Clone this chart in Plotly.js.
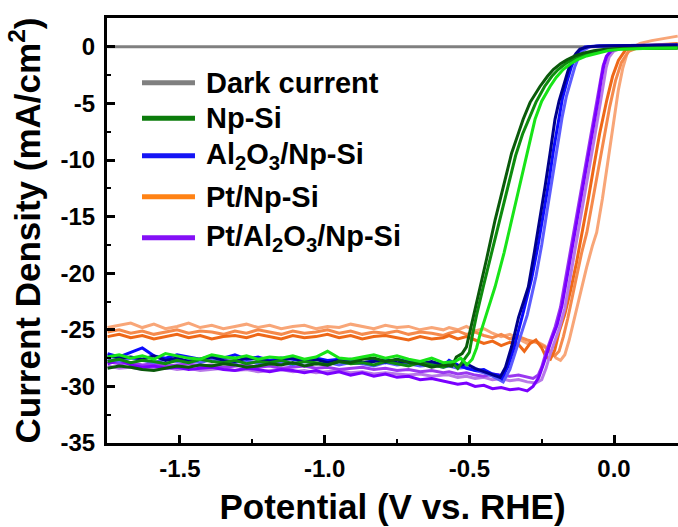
<!DOCTYPE html>
<html><head><meta charset="utf-8">
<script src="https://cdn.plot.ly/plotly-3.0.1.min.js"></script>
<style>html,body{margin:0;padding:0;background:#fff}#chart{width:678px;height:527px}</style>
</head><body><div id="chart"></div>
<script>
// ---- data ----
const xPlat = [-1.75,-1.71,-1.67,-1.63,-1.59,-1.55,-1.51,-1.47,-1.43,-1.39,-1.35,-1.31,-1.27,-1.23,-1.19,-1.15,-1.11,-1.07,-1.03,-0.99,-0.95,-0.91,-0.87,-0.83,-0.79,-0.75,-0.71,-0.67,-0.63,-0.59];

const darkX = [-1.75,-1.5,-1.25,-1.0,-0.75,-0.5,-0.25,0.0,0.22];
const darkY = [0,0,0,0,0,0,0,0,0];

// Np-Si (3 scans)
const npDarkPlat = [-28.4,-28.2,-28.3,-28.5,-28.6,-28.4,-28.2,-28.3,-28.1,-28.2,-28.0,-28.1,-28.3,-28.2,-28.0,-28.1,-27.9,-28.2,-28.0,-28.1,-27.8,-27.9,-27.6,-27.5,-27.8,-27.6,-27.9,-28.0,-28.3,-28.1];
const npDarkTailX = [-0.56,-0.545,-0.525,-0.51,-0.50,-0.487,-0.463,-0.44,-0.411,-0.38,-0.354,-0.33,-0.314,-0.29,-0.256,-0.23,-0.21,-0.185,-0.163,-0.135,-0.107,-0.07,-0.03,0.02,0.1,0.22];
const npDarkTailY = [-28.2,-27.4,-27.1,-26.5,-25.4,-23.7,-21.2,-18.7,-15.3,-12.1,-9.4,-7.6,-6.4,-4.9,-3.5,-2.6,-2.0,-1.5,-1.15,-0.8,-0.55,-0.35,-0.22,-0.15,-0.12,-0.1];
const npMidPlat = [-27.8,-27.6,-27.9,-27.7,-27.8,-28.0,-27.7,-27.9,-27.6,-27.8,-27.9,-27.7,-28.0,-27.8,-27.9,-27.7,-28.0,-27.8,-27.9,-28.1,-27.8,-28.0,-27.9,-28.1,-27.8,-28.0,-28.2,-27.9,-28.1,-28.3];
const npMidTailX = [-0.555,-0.54,-0.52,-0.50,-0.488,-0.475,-0.452,-0.426,-0.395,-0.366,-0.34,-0.316,-0.294,-0.27,-0.24,-0.215,-0.193,-0.168,-0.146,-0.115,-0.085,-0.05,-0.01,0.05,0.22];
const npMidTailY = [-28.0,-28.4,-27.7,-27.0,-25.3,-23.7,-21.2,-18.5,-15.3,-12.4,-9.6,-7.7,-6.4,-4.9,-3.5,-2.6,-2.0,-1.5,-1.15,-0.8,-0.55,-0.34,-0.22,-0.14,-0.1];
const npBrightPlat = [-27.4,-27.2,-27.5,-27.3,-27.6,-27.1,-27.3,-27.5,-27.6,-27.2,-27.4,-27.5,-27.3,-27.6,-27.4,-27.5,-27.3,-27.6,-27.4,-26.9,-27.5,-27.6,-27.4,-27.2,-27.5,-27.3,-27.6,-27.8,-27.5,-27.9];
const npBrightTailX = [-0.55,-0.53,-0.508,-0.49,-0.475,-0.463,-0.442,-0.411,-0.38,-0.354,-0.33,-0.302,-0.273,-0.25,-0.221,-0.2,-0.176,-0.15,-0.128,-0.095,-0.06,-0.02,0.03,0.1,0.22];
const npBrightTailY = [-27.8,-27.5,-28.1,-27.6,-26.6,-25.4,-23.7,-21.2,-18.2,-15.3,-12.7,-9.4,-6.4,-4.8,-3.5,-2.7,-2.0,-1.5,-1.15,-0.8,-0.55,-0.33,-0.2,-0.14,-0.11];

// Al2O3/Np-Si (3 scans)
const alNavyPlat = [-27.3,-27.5,-27.4,-27.6,-27.3,-27.7,-27.5,-27.8,-27.6,-27.4,-27.7,-27.8,-27.5,-27.6,-27.8,-27.7,-27.5,-27.8,-27.6,-27.9,-27.7,-27.6,-27.9,-27.8,-27.6,-27.9,-27.8,-28.0,-27.8,-28.1];
const alNavyTailX = [-0.57,-0.54,-0.51,-0.48,-0.45,-0.43,-0.41,-0.394,-0.375,-0.354,-0.33,-0.296,-0.275,-0.256,-0.238,-0.221,-0.204,-0.19,-0.176,-0.16,-0.146,-0.132,-0.118,-0.09,-0.05,0.05,0.22];
const alNavyTailY = [-27.9,-28.2,-28.0,-28.4,-28.7,-28.9,-29.1,-29.2,-28.3,-26.5,-23.9,-21.2,-18.1,-15.3,-12.3,-9.4,-6.4,-4.8,-3.5,-2.2,-1.15,-0.6,-0.2,0.0,0.08,0.12,0.16];
const alBluePlat = [-27.1,-27.4,-27.0,-26.6,-27.3,-27.5,-27.2,-27.4,-27.6,-27.3,-27.5,-27.2,-27.6,-27.4,-27.7,-27.5,-27.6,-27.8,-27.5,-27.7,-27.6,-27.8,-27.5,-27.7,-27.9,-27.6,-27.8,-28.0,-27.9,-28.2];
const alBlueTailX = [-0.57,-0.54,-0.51,-0.48,-0.45,-0.42,-0.40,-0.388,-0.368,-0.345,-0.315,-0.285,-0.263,-0.244,-0.226,-0.209,-0.192,-0.178,-0.163,-0.148,-0.134,-0.12,-0.1,-0.06,0.05,0.22];
const alBlueTailY = [-27.7,-28.1,-28.4,-28.6,-28.5,-28.9,-29.0,-29.3,-28.3,-26.5,-23.6,-20.5,-17.6,-14.9,-12.0,-9.1,-6.4,-4.5,-3.1,-1.8,-0.9,-0.35,0.0,0.08,0.12,0.16];
const alLightPlat = [-27.6,-27.8,-27.5,-27.7,-27.9,-27.6,-27.8,-27.7,-27.9,-27.6,-27.8,-27.9,-27.7,-28.0,-27.8,-27.9,-28.1,-27.8,-28.0,-27.9,-28.1,-27.9,-28.0,-28.2,-27.9,-28.1,-28.0,-28.2,-28.1,-28.3];
const alLightTailX = [-0.57,-0.54,-0.51,-0.48,-0.45,-0.42,-0.40,-0.383,-0.36,-0.336,-0.30,-0.27,-0.25,-0.232,-0.214,-0.196,-0.18,-0.165,-0.15,-0.136,-0.122,-0.108,-0.085,-0.05,0.05,0.22];
const alLightTailY = [-28.2,-28.4,-28.3,-28.6,-28.8,-29.1,-29.4,-29.6,-28.5,-26.6,-23.7,-20.3,-17.5,-14.6,-11.8,-8.9,-6.3,-4.4,-3.0,-1.8,-0.9,-0.35,0.0,0.08,0.12,0.16];

// Pt/Np-Si (3 scans)
const ptRedPlat = [-25.6,-25.4,-25.7,-25.5,-25.8,-25.6,-25.4,-25.7,-25.5,-25.8,-25.6,-25.5,-25.7,-25.4,-25.6,-25.8,-25.5,-25.7,-25.6,-25.4,-25.7,-25.5,-25.8,-25.6,-25.5,-25.7,-25.9,-25.6,-25.8,-25.7];
const ptRedTailX = [-0.57,-0.54,-0.51,-0.48,-0.45,-0.42,-0.39,-0.36,-0.33,-0.31,-0.29,-0.27,-0.25,-0.235,-0.22,-0.205,-0.19,-0.17,-0.15,-0.13,-0.11,-0.09,-0.07,-0.05,-0.025,-0.005,0.015,0.04,0.08,0.14,0.22];
const ptRedTailY = [-25.5,-25.8,-25.6,-25.9,-26.2,-26.0,-26.4,-26.1,-26.3,-26.9,-26.2,-25.9,-26.6,-27.4,-27.6,-26.8,-25.2,-23.6,-21.5,-19.1,-16.4,-13.6,-10.6,-7.7,-4.7,-2.6,-1.2,-0.26,0.05,0.15,0.25];
const ptMidPlat = [-25.2,-25.0,-25.3,-25.1,-25.4,-25.2,-25.0,-25.3,-25.1,-25.2,-25.4,-25.1,-25.3,-25.0,-25.2,-25.4,-25.1,-25.3,-25.2,-25.0,-25.3,-25.1,-25.4,-25.2,-25.3,-25.1,-25.4,-25.2,-25.3,-25.5];
const ptMidTailX = [-0.57,-0.54,-0.51,-0.48,-0.45,-0.42,-0.39,-0.36,-0.33,-0.30,-0.27,-0.24,-0.22,-0.205,-0.19,-0.175,-0.16,-0.145,-0.13,-0.112,-0.094,-0.075,-0.055,-0.035,-0.015,0.005,0.025,0.05,0.1,0.22];
const ptMidTailY = [-25.3,-25.1,-25.4,-25.2,-25.5,-25.7,-25.4,-25.8,-25.6,-25.9,-26.1,-26.5,-27.0,-27.3,-26.9,-25.6,-24.0,-22.1,-20.2,-18.2,-16.4,-13.8,-10.9,-8.0,-5.3,-3.0,-1.4,-0.4,0.1,0.3];
const ptPeachPlat = [-24.8,-24.6,-24.4,-24.8,-24.5,-24.9,-24.7,-24.4,-24.8,-24.6,-24.9,-24.7,-24.5,-24.8,-24.6,-24.9,-24.7,-24.6,-24.9,-24.7,-24.8,-24.5,-24.7,-24.9,-24.6,-24.8,-24.7,-25.0,-24.8,-25.0];
const ptPeachTailX = [-0.57,-0.54,-0.51,-0.48,-0.45,-0.42,-0.39,-0.36,-0.33,-0.30,-0.27,-0.24,-0.22,-0.2,-0.185,-0.17,-0.155,-0.135,-0.115,-0.095,-0.075,-0.06,-0.04,-0.02,0.0,0.015,0.03,0.045,0.06,0.09,0.13,0.18,0.22];
const ptPeachTailY = [-24.8,-25.0,-24.7,-25.1,-24.9,-25.3,-25.6,-25.4,-25.8,-26.2,-26.0,-26.4,-26.9,-27.5,-27.7,-27.2,-25.9,-23.7,-21.6,-19.5,-17.6,-16.4,-13.4,-10.0,-6.4,-3.8,-1.9,-0.6,-0.1,0.3,0.55,0.8,0.95];

// Pt/Al2O3/Np-Si (3 scans)
const paVioPlat = [-28.0,-27.7,-28.1,-28.3,-28.2,-28.4,-28.3,-28.5,-28.4,-28.3,-28.5,-28.6,-28.4,-28.5,-28.7,-28.5,-28.6,-28.8,-28.6,-28.9,-28.7,-29.0,-28.8,-29.1,-28.9,-29.2,-29.1,-29.4,-29.3,-29.5];
const paVioTailX = [-0.57,-0.54,-0.51,-0.48,-0.45,-0.42,-0.39,-0.36,-0.33,-0.30,-0.28,-0.26,-0.245,-0.23,-0.215,-0.197,-0.18,-0.16,-0.135,-0.115,-0.094,-0.075,-0.055,-0.045,-0.035,-0.025,-0.01,0.01,0.05,0.22];
const paVioTailY = [-29.6,-29.8,-29.7,-30.0,-29.9,-30.2,-30.1,-30.3,-30.2,-30.4,-30.0,-29.2,-28.1,-26.9,-25.8,-24.6,-22.9,-20.0,-16.4,-13.6,-10.6,-7.6,-4.7,-3.0,-1.6,-0.8,-0.35,-0.15,-0.08,-0.05];
const paMidPlat = [-27.8,-28.0,-27.9,-28.1,-28.0,-28.2,-28.1,-28.0,-28.2,-28.1,-28.3,-28.2,-28.1,-28.3,-28.2,-28.4,-28.3,-28.2,-28.4,-28.3,-28.5,-28.4,-28.3,-28.5,-28.4,-28.6,-28.5,-28.7,-28.6,-28.8];
const paMidTailX = [-0.57,-0.54,-0.51,-0.48,-0.45,-0.42,-0.39,-0.36,-0.33,-0.30,-0.28,-0.262,-0.25,-0.235,-0.22,-0.203,-0.185,-0.165,-0.14,-0.12,-0.099,-0.08,-0.06,-0.048,-0.038,-0.027,-0.012,0.01,0.05,0.22];
const paMidTailY = [-28.7,-28.9,-28.8,-29.0,-29.1,-28.9,-29.0,-29.1,-29.0,-29.2,-29.3,-29.0,-28.3,-27.0,-25.9,-24.7,-23.0,-20.1,-16.5,-13.7,-10.7,-7.7,-4.8,-3.1,-1.7,-0.85,-0.38,-0.16,-0.08,-0.05];
const paLightPlat = [-28.2,-28.4,-28.3,-28.5,-28.4,-28.3,-28.5,-28.4,-28.6,-28.5,-28.4,-28.6,-28.5,-28.7,-28.6,-28.5,-28.7,-28.6,-28.8,-28.7,-28.6,-28.8,-28.7,-28.9,-28.8,-28.9,-29.0,-28.9,-29.1,-29.0];
const paLightTailX = [-0.57,-0.54,-0.51,-0.48,-0.45,-0.42,-0.39,-0.36,-0.33,-0.30,-0.27,-0.25,-0.235,-0.22,-0.205,-0.188,-0.17,-0.15,-0.125,-0.105,-0.085,-0.066,-0.047,-0.037,-0.027,-0.017,-0.002,0.02,0.06,0.22];
const paLightTailY = [-29.0,-29.2,-29.1,-29.3,-29.2,-29.4,-29.3,-29.5,-29.4,-29.6,-29.7,-29.4,-28.4,-27.1,-26.0,-24.8,-23.1,-20.2,-16.6,-13.8,-10.8,-7.8,-4.9,-3.2,-1.8,-0.9,-0.4,-0.15,-0.06,0.0];

const legendLabels = ['Dark current','Np-Si','Al<sub>2</sub>O<sub>3</sub>/Np-Si','Pt/Np-Si','Pt/Al<sub>2</sub>O<sub>3</sub>/Np-Si'];
const legendColors = ['#808080','#0c7c0c','#1414f5','#ff8214','#8410f6'];
const xTickVals = [-1.5,-1.0,-0.5,0.0];
const xTickText = ['-1.5','-1.0','-0.5','0.0'];
const yTickVals = [0,-5,-10,-15,-20,-25,-30,-35];
const yTickText = ['0','-5','-10','-15','-20','-25','-30','-35'];

// ---- traces ----
function scan(plat, tx, ty, color) {
  return {x: xPlat.concat(tx), y: plat.concat(ty), type: 'scatter', mode: 'lines',
          line: {color: color, width: 3}, showlegend: false, hoverinfo: 'skip'};
}
const traces = [
  {x: darkX, y: darkY, type: 'scatter', mode: 'lines', line: {color: '#808080', width: 3}, showlegend: false},
  scan(ptPeachPlat, ptPeachTailX, ptPeachTailY, '#f8a678'),
  scan(ptMidPlat, ptMidTailX, ptMidTailY, '#f58a4c'),
  scan(ptRedPlat, ptRedTailX, ptRedTailY, '#ee6818'),
  scan(paLightPlat, paLightTailX, paLightTailY, '#b878e8'),
  scan(paMidPlat, paMidTailX, paMidTailY, '#9a38f0'),
  scan(paVioPlat, paVioTailX, paVioTailY, '#7a00ff'),
  scan(alLightPlat, alLightTailX, alLightTailY, '#5c5cff'),
  scan(alBluePlat, alBlueTailX, alBlueTailY, '#0a0aff'),
  scan(alNavyPlat, alNavyTailX, alNavyTailY, '#00008c'),
  scan(npMidPlat, npMidTailX, npMidTailY, '#0e8c0e'),
  scan(npDarkPlat, npDarkTailX, npDarkTailY, '#0a5a0a'),
  scan(npBrightPlat, npBrightTailX, npBrightTailY, '#18e418')
];

// ---- legend (manual) ----
const legY = [0.8478, 0.764, 0.676, 0.5795, 0.483];
const shapes = [], annotations = [];
legendLabels.forEach((lab, i) => {
  shapes.push({type: 'line', xref: 'paper', yref: 'paper', x0: 0.0613, x1: 0.1541, y0: legY[i], y1: legY[i],
               line: {color: legendColors[i], width: 5}});
  annotations.push({xref: 'paper', yref: 'paper', x: 0.1700, y: legY[i], xanchor: 'left', yanchor: 'middle',
                    text: lab, showarrow: false,
                    font: {family: 'Liberation Sans, Arial, sans-serif', size: 29, weight: 'bold', color: '#000'}});
});

const font = {family: 'Liberation Sans, Arial, sans-serif', weight: 'bold', color: '#000'};
const layout = {
  width: 678, height: 527,
  margin: {l: 107, r: 0, t: 18, b: 84},
  paper_bgcolor: '#fff', plot_bgcolor: '#fff',
  showlegend: false,
  font: font,
  xaxis: {
    range: [-1.752, 0.221], tickmode: 'array', tickvals: xTickVals, ticktext: xTickText,
    ticks: 'inside', ticklen: 8, tickwidth: 3, tickcolor: '#000',
    minor: {dtick: 0.25, tick0: 0, ticks: 'inside', ticklen: 4, tickwidth: 2, tickcolor: '#000', showgrid: false},
    showline: true, linewidth: 3, linecolor: '#000', mirror: true,
    showgrid: false, zeroline: false,
    tickfont: {family: font.family, weight: 'bold', size: 24, color: '#000'},
    ticklabelstandoff: 2,
    title: {text: 'Potential (V vs. RHE)', standoff: 14, font: {family: font.family, weight: 'bold', size: 35, color: '#000'}}
  },
  yaxis: {
    range: [-35, 2.55], tickmode: 'array', tickvals: yTickVals, ticktext: yTickText,
    ticks: 'inside', ticklen: 8, tickwidth: 3, tickcolor: '#000',
    minor: {dtick: 2.5, tick0: 0, ticks: 'inside', ticklen: 4, tickwidth: 2, tickcolor: '#000', showgrid: false},
    showline: true, linewidth: 3, linecolor: '#000', mirror: false,
    showgrid: false, zeroline: false,
    tickfont: {family: font.family, weight: 'bold', size: 24, color: '#000'},
    ticklabelstandoff: 4,
    title: {text: 'Current Density (mA/cm<sup>2</sup>)', standoff: 10, font: {family: font.family, weight: 'bold', size: 35, color: '#000'}}
  },
  shapes: shapes,
  annotations: annotations
};
Plotly.newPlot('chart', traces, layout, {displayModeBar: false, staticPlot: true});
</script></body></html>
